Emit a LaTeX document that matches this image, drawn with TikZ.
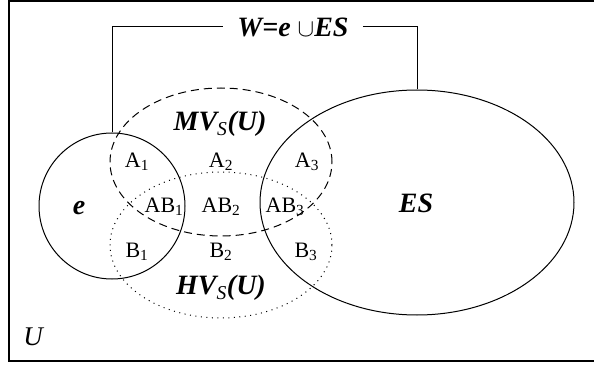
\documentclass[tikz,border=0pt]{standalone}
\usepackage{fontspec}
\setmainfont{Liberation Serif}
\usetikzlibrary{shapes.geometric}

\begin{document}
\begin{tikzpicture}[
  x=1pt,y=-1pt,
  set/.style={draw,line width=1pt,inner sep=0pt},
  dashset/.style={set,ellipse,dash pattern=on 8pt off 5pt},
  dotset/.style={set,ellipse,dash pattern=on 1pt off 4.5pt},
  region/.style={font=\fontsize{22}{24}\selectfont,inner sep=1pt},
  setname/.style={font=\fontsize{28}{30}\selectfont\bfseries\itshape,inner sep=1pt}
]
\useasboundingbox (0,0) rectangle (594,366);
% universe frame (open on the right)
\draw[line width=1.2pt] (594,1) -- (9,1) -- (9,361) -- (594,361);
\node[font=\fontsize{27}{29}\selectfont\itshape] (Uname) at (33,337) {U};

% sets
\node[set,circle,minimum size=146pt] (e) at (112,206) {};
\node[set,ellipse,minimum width=314pt,minimum height=225pt] (ES) at (417,202.5) {};
\node[dashset,minimum width=222pt,minimum height=148pt] (MV) at (221,162) {};
\node[dotset,minimum width=222pt,minimum height=146pt] (HV) at (221,245) {};

% W = e u ES bracket
\node[setname,inner xsep=14pt] (W) at (293,27) {W=e {\mdseries\upshape$\cup$}ES};
\draw[line width=1pt] (e.north) |- (W.west);
\draw[line width=1pt] (W.east) -| (ES.north);

% set names
\node[setname] (eName) at (79,208) {e};
\node[setname] (ESName) at (416,203) {ES};
\node[setname] (MVName) at (220,124) {MV\textsubscript{\mdseries S}(U)};
\node[setname] (HVName) at (221,288) {HV\textsubscript{\mdseries S}(U)};

% regions
\foreach \i/\xa/\xab/\xb in {1/137/164/137,2/221/221/221,3/307/285/306}{
  \node[region] (A\i) at (\xa,162) {A\textsubscript{\i}};
  \node[region] (AB\i) at (\xab,207) {AB\textsubscript{\i}};
  \node[region] (B\i) at (\xb,252) {B\textsubscript{\i}};
}
\end{tikzpicture}
\end{document}
